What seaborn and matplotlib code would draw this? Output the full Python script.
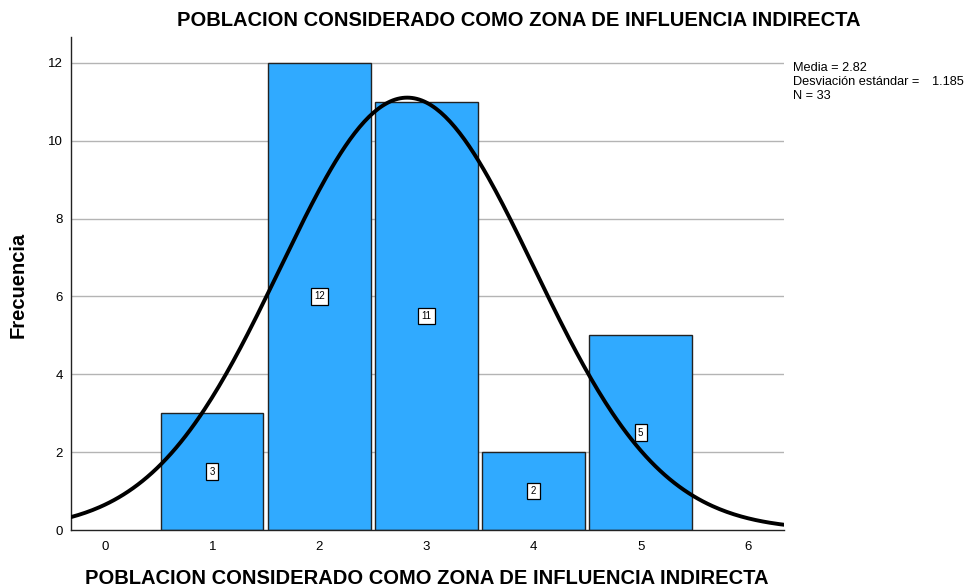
import numpy as np
import pandas as pd
import matplotlib
matplotlib.use("Agg")
import matplotlib.pyplot as plt
import seaborn as sb

# Data
valores = [1, 2, 3, 4, 5]
frecuencias = [3, 12, 11, 2, 5]
media = 2.82
desv = 1.185
n_total = 33

titulo = "POBLACION CONSIDERADO COMO ZONA DE INFLUENCIA INDIRECTA"

sb.set_style("white")
plt.rcParams['font.family'] = ['Liberation Sans', 'DejaVu Sans']
plt.rcParams['text.color'] = 'black'
plt.rcParams['xtick.color'] = 'black'
plt.rcParams['ytick.color'] = 'black'

fig = plt.figure(figsize=(9.65, 5.87), dpi=100)
ax = fig.add_axes([0.0736, 0.0971, 0.7389, 0.840])

df = pd.DataFrame({'valor': valores, 'frecuencia': frecuencias})

# grid lines behind bars
for yv in [2, 4, 6, 8, 10, 12]:
    ax.axhline(yv, color='#b4b4b4', lw=1, zorder=0)

sb.barplot(data=df, x='valor', y='frecuencia', native_scale=True, width=0.955,
           color='#30aaff', saturation=1, edgecolor='#222222', linewidth=1,
           ax=ax, zorder=2)

# normal curve from the displayed statistics
xs = np.linspace(-0.32, 6.34, 300)
ys = n_total * 1.0 / (desv * np.sqrt(2 * np.pi)) * np.exp(-0.5 * ((xs - media) / desv) ** 2)
sb.lineplot(x=xs, y=ys, color='black', lw=2.8, ax=ax, zorder=4)

# value labels in small boxes
for v, f in zip(valores, frecuencias):
    ax.text(v, f / 2, str(f), ha='center', va='center', fontsize=7, zorder=5,
            bbox=dict(boxstyle='square,pad=0.35', fc='white', ec='black', lw=0.9))

ax.set_xlim(-0.32, 6.34)
ax.set_ylim(0, 12.67)
ax.set_xticks(range(0, 7))
ax.set_yticks([0, 2, 4, 6, 8, 10, 12])
ax.tick_params(axis='both', labelsize=9.5, length=0, pad=8)
ax.tick_params(axis='y', pad=6)
for s in ['top', 'right']:
    ax.spines[s].set_visible(False)
for s in ['left', 'bottom']:
    ax.spines[s].set_color('#222222')
    ax.spines[s].set_linewidth(1)

ax.set_xlabel("")
ax.set_ylabel("")
fig.text(427 / 965, 1 - 578 / 587, titulo, ha='center', va='center',
         fontsize=14.5, fontweight='bold')
fig.text(18 / 965, 1 - 285 / 587, "Frecuencia", ha='center', va='center',
         rotation=90, fontsize=14.5, fontweight='bold')

fig.text(519 / 965, 1 - 20 / 587, titulo, ha='center', va='center',
         fontsize=14.5, fontweight='bold')

fig.text(793 / 965, 1 - 68 / 587, "Media = 2.82", fontsize=9.2, va='center')
fig.text(793 / 965, 1 - 82 / 587, "Desviación estándar =", fontsize=9.2, va='center')
fig.text(932 / 965, 1 - 82 / 587, "1.185", fontsize=9.2, va='center')
fig.text(793 / 965, 1 - 96 / 587, "N = 33", fontsize=9.2, va='center')

fig.savefig("out.png", dpi=100)
